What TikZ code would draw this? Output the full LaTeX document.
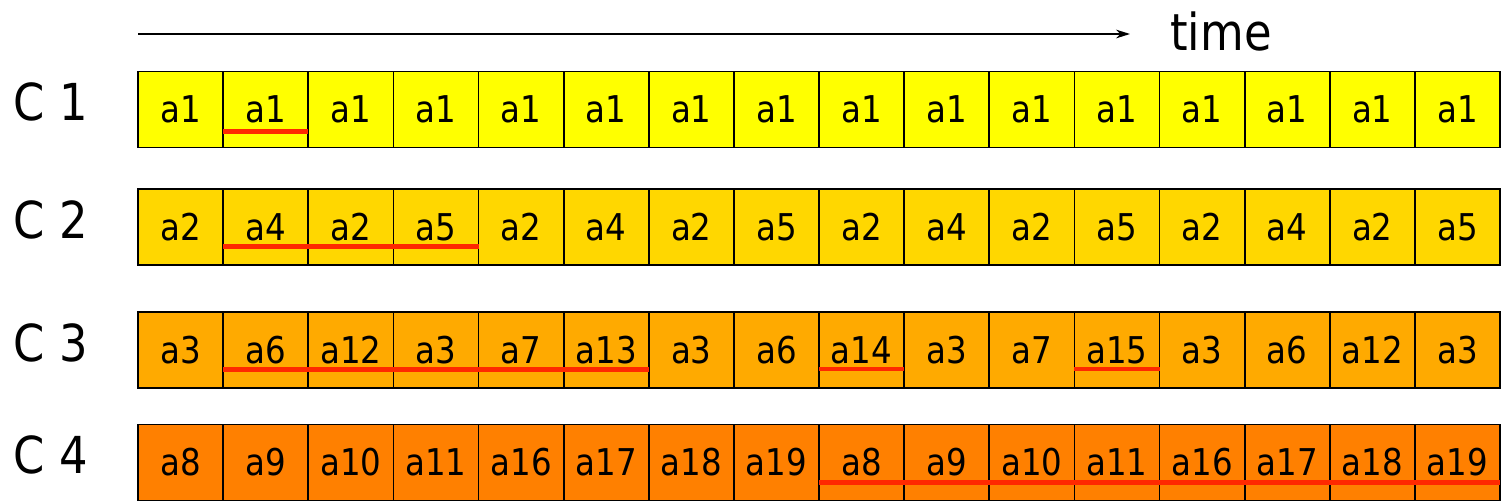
\documentclass[tikz,border=0pt]{standalone}
\usepackage{fontspec}
\setmainfont{DejaVu Sans}[FakeStretch=0.88]
\usepackage{tikz}
\usetikzlibrary{arrows.meta, positioning}

\definecolor{rowone}{RGB}{255,255,0}
\definecolor{rowtwo}{RGB}{255,215,0}
\definecolor{rowthree}{RGB}{255,170,0}
\definecolor{rowfour}{RGB}{255,128,0}
\definecolor{markred}{RGB}{255,40,0}

\tikzset{
  slot/.style={draw, line width=1pt, minimum width=1.7025cm, minimum height=1.52cm,
    inner sep=0pt, outer sep=0pt, font=\fontsize{21}{21}\selectfont},
  rowlabel/.style={font=\fontsize{29}{29}\selectfont, inner sep=0pt},
  markline/.style={draw=markred, line width=2.4pt},
}

\begin{document}
\begin{tikzpicture}[>={Stealth[length=8pt, width=5pt]}]
    \useasboundingbox (0,0) rectangle (30.08,-10.04);

    % Zeitleiste oben
    \coordinate (tstart) at (2.76,-0.68);
    \node[font=\fontsize{29}{29}\selectfont, inner sep=0pt] (time) at (24.42,-0.62) {time};
    \draw[->, line width=0.8pt] (tstart) -- ([xshift=-0.8cm]time.west |- tstart);

    % Zeilen C1 bis C4, Zellen jeweils rechts aneinander
    \foreach \r/\y/\fillc/\list in {
        1/-2.19/rowone/{a1,a1,a1,a1,a1,a1,a1,a1,a1,a1,a1,a1,a1,a1,a1,a1},
        2/-4.54/rowtwo/{a2,a4,a2,a5,a2,a4,a2,a5,a2,a4,a2,a5,a2,a4,a2,a5},
        3/-7.00/rowthree/{a3,a6,a12,a3,a7,a13,a3,a6,a14,a3,a7,a15,a3,a6,a12,a3},
        4/-9.25/rowfour/{a8,a9,a10,a11,a16,a17,a18,a19,a8,a9,a10,a11,a16,a17,a18,a19}} {
      \coordinate (c\r-0) at (2.76,\y);
      \foreach \t [count=\i, remember=\i as \j (initially 0)] in \list
        \node[slot, fill=\fillc, right=0pt of c\r-\j] (c\r-\i) {\raisebox{-1.5pt}{\t}};
      \node[rowlabel, left=1.0cm of c\r-1, yshift=0.15cm] (lab\r) {C \r};
    }

    % rote Markierungen unter den Zellen
    \foreach \r/\a/\b/\h in {1/2/2/0.32, 2/2/4/0.37, 3/2/6/0.37, 3/9/9/0.38, 3/12/12/0.38, 4/9/16/0.36}
      \draw[markline] ([yshift=\h cm]c\r-\a.south west) -- ([yshift=\h cm]c\r-\b.south east);
\end{tikzpicture}
\end{document}
